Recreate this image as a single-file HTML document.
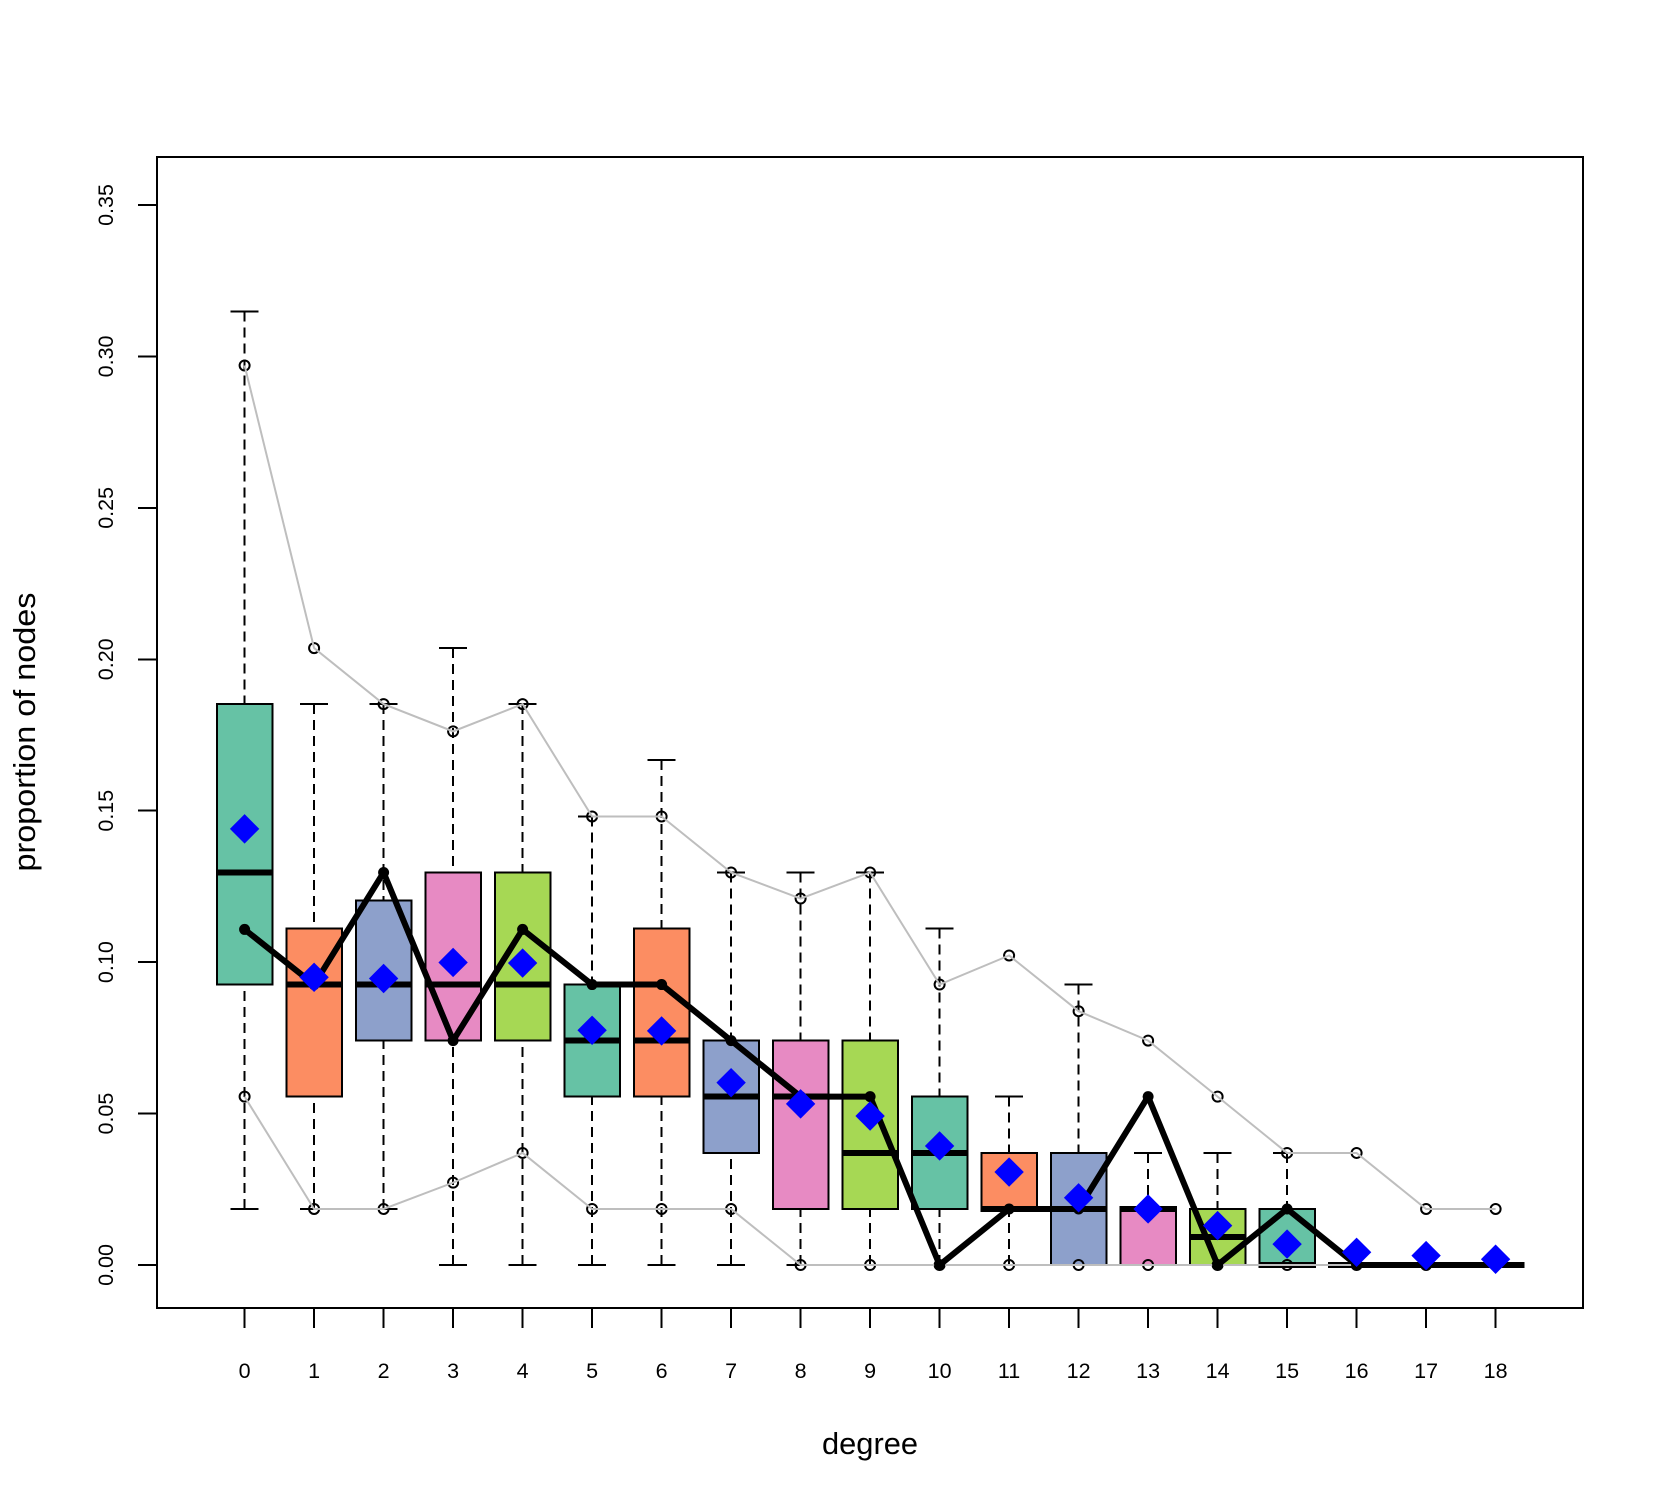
<!DOCTYPE html>
<html lang="en">
<head>
<meta charset="utf-8">
<title>Proportion of nodes by degree</title>
<style>
html,body{margin:0;padding:0;background:#fff;}
svg{display:block;}
text{font-family:"Liberation Sans",Arial,sans-serif;fill:#000;}
</style>
</head>
<body>
<svg id="chart" xmlns="http://www.w3.org/2000/svg" width="1664" height="1504" viewBox="0 0 1664 1504">
  <rect x="0" y="0" width="1664" height="1504" fill="#ffffff"/>
  <g id="boxes"></g>
  <g id="envelopes"></g>
  <g id="observed"></g>
  <g id="means"></g>
  <rect x="157" y="157" width="1426" height="1151" fill="none" stroke="#000" stroke-width="2" shape-rendering="crispEdges"/>
  <g id="axes"></g>
  <text x="870" y="1454" font-size="31" text-anchor="middle" textLength="96" lengthAdjust="spacingAndGlyphs">degree</text>
  <text transform="translate(35,732) rotate(-90)" font-size="31" text-anchor="middle" textLength="279" lengthAdjust="spacingAndGlyphs">proportion of nodes</text>
</svg>
<script>
const degreeLabels = ['0','1','2','3','4','5','6','7','8','9','10','11','12','13','14','15','16','17','18'];
const yTickValues = [0, 0.05, 0.10, 0.15, 0.20, 0.25, 0.30, 0.35];
const yTickLabels = ['0.00','0.05','0.10','0.15','0.20','0.25','0.30','0.35'];
const whiskerLow = [0.0185,0.0185,0.0185,0,0,0,0,0,0,0,0,0,0,0,0,0,0,0,0];
const quartile1 = [0.0926,0.0556,0.0741,0.0741,0.0741,0.0556,0.0556,0.0370,0.0185,0.0185,0.0185,0.0185,0,0,0,0,0,0,0];
const medians = [0.1296,0.0926,0.0926,0.0926,0.0926,0.0741,0.0741,0.0556,0.0556,0.0370,0.0370,0.0185,0.0185,0.0185,0.0093,0,0,0,0];
const quartile3 = [0.1852,0.1111,0.1204,0.1296,0.1296,0.0926,0.1111,0.0741,0.0741,0.0741,0.0556,0.0370,0.0370,0.0185,0.0185,0.0185,0,0,0];
const whiskerHigh = [0.3148,0.1852,0.1852,0.2037,0.1852,0.1481,0.1667,0.1296,0.1296,0.1296,0.1111,0.0556,0.0926,0.0370,0.0370,0.0370,0,0,0];
const upperEnvelope = [0.2970,0.2037,0.1852,0.1762,0.1852,0.1481,0.1481,0.1296,0.1210,0.1296,0.0926,0.1022,0.0838,0.0741,0.0556,0.0370,0.0370,0.0185,0.0185];
const lowerEnvelope = [0.0556,0.0185,0.0185,0.0272,0.0370,0.0185,0.0185,0.0185,0,0,0,0,0,0,0,0,0,0,0];
const observedSeries = [0.1108,0.0926,0.1296,0.0741,0.1108,0.0926,0.0926,0.0741,0.0556,0.0556,0,0.0185,0.0185,0.0556,0,0.0185,0,0,0];
const meanValues = [0.1440,0.0950,0.0946,0.0999,0.0997,0.0775,0.0773,0.0602,0.0532,0.0492,0.0393,0.0307,0.0222,0.0185,0.0130,0.0069,0.0042,0.0031,0.0019];
const boxPalette = ['#66C2A5','#FC8D62','#8DA0CB','#E78AC3','#A6D854'];

const SVG_NS = 'http://www.w3.org/2000/svg';
function xAxis(i) { return 244.6 + i * (1251 / 18); }
function yAxis(v) { return 1265 - v * (1060 / 0.35); }
function make(tag, parent, attrs) {
  const el = document.createElementNS(SVG_NS, tag);
  for (const k in attrs) el.setAttribute(k, attrs[k]);
  parent.appendChild(el);
  return el;
}
const crisp = 'crispEdges';
const boxesG = document.getElementById('boxes');
const envG = document.getElementById('envelopes');
const obsG = document.getElementById('observed');
const meansG = document.getElementById('means');
const axesG = document.getElementById('axes');
const BOX_HALF = 27.8, CAP_HALF = 14;

degreeLabels.forEach(function (label, i) {
  const x = xAxis(i);
  const group = make('g', boxesG, {});
  
  

  const wLow = make('line', group, {x1:x, x2:x, y1:yAxis(whiskerLow[i]), y2:yAxis(quartile1[i]), stroke:'#000', 'stroke-width':2, 'stroke-dasharray':'10 6', 'shape-rendering':crisp});
  
  

  const wHigh = make('line', group, {x1:x, x2:x, y1:yAxis(whiskerHigh[i]), y2:yAxis(quartile3[i]), stroke:'#000', 'stroke-width':2, 'stroke-dasharray':'10 6', 'shape-rendering':crisp});
  
  

  const capLow = make('line', group, {x1:x-CAP_HALF, x2:x+CAP_HALF, y1:yAxis(whiskerLow[i]), y2:yAxis(whiskerLow[i]), stroke:'#000', 'stroke-width':2, 'shape-rendering':crisp});
  
  

  const capHigh = make('line', group, {x1:x-CAP_HALF, x2:x+CAP_HALF, y1:yAxis(whiskerHigh[i]), y2:yAxis(whiskerHigh[i]), stroke:'#000', 'stroke-width':2, 'shape-rendering':crisp});
  
  

  const top = yAxis(quartile3[i]), bottom = yAxis(quartile1[i]);
  const box = make('rect', group, {x:x-BOX_HALF, y:top, width:BOX_HALF*2, height:bottom-top, fill:boxPalette[i % boxPalette.length], stroke:'#000', 'stroke-width':2, 'shape-rendering':crisp});
  
  

  const med = make('line', group, {x1:x-BOX_HALF-1, x2:x+BOX_HALF+1, y1:yAxis(medians[i]), y2:yAxis(medians[i]), stroke:'#000', 'stroke-width':6, 'shape-rendering':crisp});
  
  
});

function drawEnvelope(values, name) {
  values.forEach(function (v, i) {
    const c = make('circle', envG, {cx:xAxis(i), cy:yAxis(v), r:5, fill:'none', stroke:'#000', 'stroke-width':2});
    
    
  });
  const pts = values.map(function (v, i) { return xAxis(i) + ',' + yAxis(v); }).join(' ');
  const line = make('polyline', envG, {points:pts, fill:'none', stroke:'#BEBEBE', 'stroke-width':2});
  
  
}
drawEnvelope(upperEnvelope, 'upper-envelope');
drawEnvelope(lowerEnvelope, 'lower-envelope');

const obsPts = observedSeries.map(function (v, i) { return xAxis(i) + ',' + yAxis(v); }).join(' ');
const obsLine = make('polyline', obsG, {points:obsPts, fill:'none', stroke:'#000', 'stroke-width':6, 'stroke-linejoin':'round'});


observedSeries.forEach(function (v, i) {
  const c = make('circle', obsG, {cx:xAxis(i), cy:yAxis(v), r:5.5, fill:'#000'});
  
  
});

meanValues.forEach(function (v, i) {
  const x = xAxis(i), y = yAxis(v), d = 14.7;
  const p = make('polygon', meansG, {points:[x,y-d, x+d,y, x,y+d, x-d,y].join(' '), fill:'#0000FF'});
  
  
});

degreeLabels.forEach(function (label, i) {
  const x = xAxis(i);
  const tick = make('line', axesG, {x1:x, x2:x, y1:1308, y2:1328, stroke:'#000', 'stroke-width':2, 'shape-rendering':crisp});
  
  
  const t = make('text', axesG, {x:x, y:1378, 'font-size':21.5, 'text-anchor':'middle'});
  t.textContent = label;
  
  
});

yTickValues.forEach(function (v, i) {
  const y = yAxis(v);
  const tick = make('line', axesG, {x1:138, x2:157, y1:y, y2:y, stroke:'#000', 'stroke-width':2, 'shape-rendering':crisp});
  
  
  const t = make('text', axesG, {transform:'translate(113,' + y + ') rotate(-90)', 'font-size':21.5, 'text-anchor':'middle'});
  t.textContent = yTickLabels[i];
  
  
});
</script>
</body>
</html>
